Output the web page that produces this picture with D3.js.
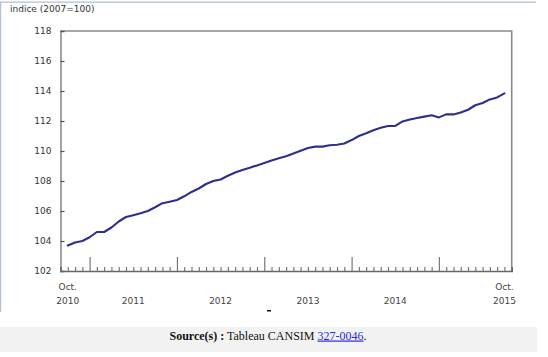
<!DOCTYPE html>
<html>
<head>
<meta charset="utf-8">
<script src="https://cdn.jsdelivr.net/npm/d3@7"></script>
<style>
  html, body { margin: 0; padding: 0; background: #fff; }
  svg { display: block; }
</style>
</head>
<body>
<svg id="chart" width="548" height="357"></svg>
<script>
// ---- data ----
const months = [
  "2010-10","2010-11","2010-12",
  "2011-01","2011-02","2011-03","2011-04","2011-05","2011-06","2011-07","2011-08","2011-09","2011-10","2011-11","2011-12",
  "2012-01","2012-02","2012-03","2012-04","2012-05","2012-06","2012-07","2012-08","2012-09","2012-10","2012-11","2012-12",
  "2013-01","2013-02","2013-03","2013-04","2013-05","2013-06","2013-07","2013-08","2013-09","2013-10","2013-11","2013-12",
  "2014-01","2014-02","2014-03","2014-04","2014-05","2014-06","2014-07","2014-08","2014-09","2014-10","2014-11","2014-12",
  "2015-01","2015-02","2015-03","2015-04","2015-05","2015-06","2015-07","2015-08","2015-09","2015-10"
];
const indexValues = [
  103.7, 103.9, 104.0,
  104.25, 104.6, 104.6, 104.9, 105.3, 105.6, 105.72, 105.85, 106.0, 106.25, 106.52, 106.62,
  106.73, 106.98, 107.27, 107.5, 107.8, 108.0, 108.1, 108.35, 108.57, 108.74, 108.88, 109.04,
  109.2, 109.37, 109.52, 109.65, 109.83, 110.02, 110.2, 110.29, 110.29, 110.38, 110.42, 110.5,
  110.73, 111.0, 111.18, 111.38, 111.55, 111.67, 111.67, 111.97, 112.1, 112.2, 112.29, 112.38,
  112.24, 112.44, 112.44, 112.56, 112.75, 113.05, 113.2, 113.44, 113.57, 113.84
];
const yTicks = [102, 104, 106, 108, 110, 112, 114, 116, 118];
const yearLabels = ["2011", "2012", "2013", "2014"];
const endLabels = [["Oct.", "2010"], ["Oct.", "2015"]];
const unitLabel = "indice (2007=100)";

// ---- layout ----
const svg = d3.select("#chart");
const plot = { left: 60.5, right: 511.7, top: 31, bottom: 271 };

const x = d3.scaleLinear().domain([-1, months.length]).range([plot.left, plot.right]);
const y = d3.scaleLinear().domain([102, 118]).range([plot.bottom, plot.top]);

// outer frame (light blue top + left)
svg.append("line").attr("x1", 0).attr("x2", 536).attr("y1", 2.2).attr("y2", 2.2)
  .attr("stroke", "#b3bfd3").attr("stroke-width", 1.2);
svg.append("line").attr("x1", 0.6).attr("x2", 0.6).attr("y1", 2).attr("y2", 312)
  .attr("stroke", "#b3bfd3").attr("stroke-width", 1.2);

// bottom source band
svg.append("rect").attr("x", 0).attr("y", 327).attr("width", 537).attr("height", 25)
  .attr("fill", "#f2f2f2");

const src = svg.append("text").attr("x", 268).attr("y", 339.5)
  .attr("text-anchor", "middle")
  .style("font-family", "'Liberation Serif', 'Times New Roman', serif")
  .style("font-size", "12px").attr("fill", "#111");
src.append("tspan").style("font-weight", "bold").text("Source(s) :");
src.append("tspan").text(" Tableau CANSIM ");
src.append("tspan").attr("fill", "#2b2bd8").style("text-decoration", "underline").text("327-0046");
src.append("tspan").text(".");

// small dash mark
svg.append("rect").attr("x", 267).attr("y", 310).attr("width", 4).attr("height", 1.5).attr("fill", "#111");

// unit label
svg.append("text").attr("x", 10).attr("y", 11.5)
  .style("font-family", "'DejaVu Sans', Verdana, sans-serif").style("font-size", "9px")
  .attr("fill", "#333").text(unitLabel);

// plot frame: top and right
svg.append("path")
  .attr("d", `M${plot.left},${plot.top}H${plot.right}V${plot.bottom}`)
  .attr("fill", "none").attr("stroke", "#8a8a8a").attr("stroke-width", 1.6);

// y axis
const yAxis = d3.axisLeft(y).tickValues(yTicks).tickSize(-4).tickPadding(9).tickFormat(d3.format("d"));
const gy = svg.append("g").attr("transform", `translate(${plot.left},0)`).call(yAxis);
gy.select(".domain").attr("stroke", "#8a8a8a").attr("stroke-width", 1.6);
gy.selectAll(".tick line").attr("stroke", "#555").attr("stroke-width", 1.2);
gy.selectAll(".tick text").attr("fill", "#333")
  .style("font-family", "'DejaVu Sans', Verdana, sans-serif").style("font-size", "9px");

// x axis
const monthIdx = d3.range(months.length);
const xAxis = d3.axisBottom(x).tickValues(monthIdx).tickSize(-4).tickFormat("");
const gx = svg.append("g").attr("transform", `translate(0,${plot.bottom})`).call(xAxis);
gx.select(".domain").attr("stroke", "#666").attr("stroke-width", 1.6);
gx.selectAll(".tick line")
  .attr("y2", d => months[d].endsWith("-01") ? -14 : -4)
  .attr("stroke", "#777").attr("stroke-width", 1.2);

// x labels
const lblFont = "'DejaVu Sans', Verdana, sans-serif";
yearLabels.forEach(yr => {
  const i0 = months.indexOf(yr + "-01");
  const i1 = months.indexOf((+yr + 1) + "-01");
  svg.append("text").attr("x", x((i0 + i1) / 2)).attr("y", 304)
    .attr("text-anchor", "middle").attr("fill", "#444")
    .style("font-family", lblFont).style("font-size", "9px").text(yr);
});
[[0, endLabels[0]], [months.length - 1, endLabels[1]]].forEach(([i, lines]) => {
  svg.append("text").attr("x", x(i)).attr("y", 290)
    .attr("text-anchor", "middle").attr("fill", "#444")
    .style("font-family", lblFont).style("font-size", "9px").text(lines[0]);
  svg.append("text").attr("x", x(i)).attr("y", 304)
    .attr("text-anchor", "middle").attr("fill", "#444")
    .style("font-family", lblFont).style("font-size", "9px").text(lines[1]);
});

// line
const line = d3.line().x((d, i) => x(i)).y(d => y(d));
svg.append("path").datum(indexValues)
  .attr("d", line).attr("fill", "none")
  .attr("stroke", "#2e2e8f").attr("stroke-width", 2.1)
  .attr("stroke-linejoin", "round").attr("stroke-linecap", "round");
</script>
</body>
</html>
